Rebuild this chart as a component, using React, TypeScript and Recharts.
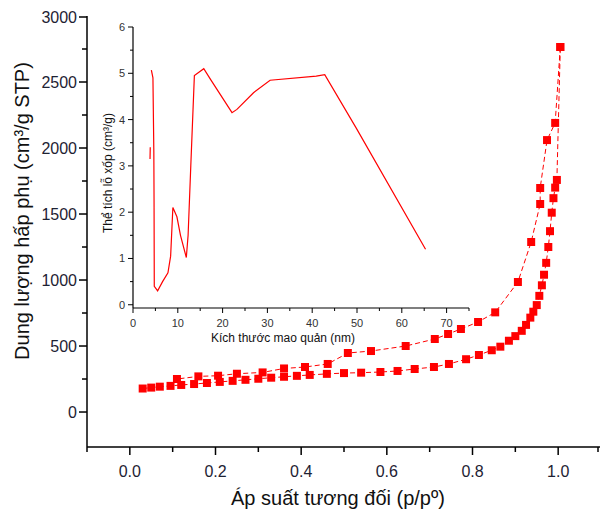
import { ScatterChart, Scatter, XAxis, YAxis, ZAxis, LineChart, Line, Label } from "recharts";

// Adsorption branch (lower curve): relative pressure and adsorbed volume.
const adsP = [0.03, 0.05, 0.07, 0.095, 0.12, 0.15, 0.18, 0.21, 0.24, 0.27, 0.3, 0.33, 0.36, 0.39, 0.42, 0.46, 0.5, 0.54, 0.585, 0.625, 0.665, 0.71, 0.745, 0.785, 0.815, 0.845, 0.865, 0.885, 0.9, 0.915, 0.925, 0.935, 0.942, 0.95, 0.956, 0.962, 0.967, 0.972, 0.977, 0.981, 0.985, 0.989, 0.993, 0.997, 1.005];
const adsV = [178, 185, 192, 198, 205, 212, 220, 228, 236, 244, 252, 260, 267, 274, 281, 289, 295, 298, 303, 311, 326, 341, 364, 400, 432, 468, 495, 540, 575, 615, 660, 715, 760, 810, 880, 960, 1040, 1130, 1250, 1370, 1510, 1620, 1700, 1758, 2765];

// Desorption branch (upper curve).
const desP = [1.005, 0.993, 0.974, 0.958, 0.958, 0.937, 0.906, 0.853, 0.813, 0.773, 0.743, 0.712, 0.644, 0.563, 0.509, 0.462, 0.409, 0.36, 0.31, 0.25, 0.206, 0.16, 0.11];
const desV = [2765, 2190, 2060, 1697, 1576, 1288, 985, 755, 682, 629, 591, 553, 500, 462, 447, 364, 341, 330, 300, 290, 275, 270, 250];

// Inset: pore size distribution (null = gap in the line).
const poreSize = [3.8, 3.85, 3.95, 4.1, 4.45, 4.65, 4.7, 4.75, 5.5, 6.6, 7.8, 8.4, 8.9, 9.8, 10.6, 11.9, 12.3, 12.9, 13.7, 15.8, 17.3, 22.1, 23.2, 26.9, 30.6, 40.9, 42.8, 49.8, 65.3];
const poreVol = [3.15, 3.4, null, 5.07, 4.9, 3.3, 2.24, 0.4, 0.3, 0.5, 0.69, 1.05, 2.1, 1.9, 1.5, 1.02, 1.5, 3.0, 4.95, 5.1, 4.87, 4.15, 4.22, 4.58, 4.85, 4.94, 4.97, 3.82, 1.2];

const xTicks = [-0.1, 0, 0.1, 0.2, 0.3, 0.4, 0.5, 0.6, 0.7, 0.8, 0.9, 1.0, 1.1];
const yTicks = [0, 250, 500, 750, 1000, 1250, 1500, 1750, 2000, 2250, 2500, 2750, 3000];
const insetXTicks = [0, 5, 10, 15, 20, 25, 30, 35, 40, 45, 50, 55, 60, 65, 70, 75];
const insetYTicks = [0, 0.5, 1, 1.5, 2, 2.5, 3, 3.5, 4, 4.5, 5, 5.5, 6];

const adsData = adsP.map((p, i) => ({ x: p, y: adsV[i] }));
const desData = desP.map((p, i) => ({ x: p, y: desV[i] }));
const poreData = poreSize.map((d, i) => ({ x: d, y: poreVol[i] }));

const RED = "#ff0000";
const FONT = "'Liberation Sans', Arial, sans-serif";
const LABEL_COLOR = "#1e2233";

const MainXTick = ({ x, y, payload }: any) => {
  const v = payload.value;
  const major = Math.round(v * 10) % 2 === 0 && v >= 0 && v <= 1.0001;
  return (
    <g>
      <line x1={x} x2={x} y1={y} y2={y + (major ? 8 : 5)} stroke="#000" strokeWidth={1.5} />
      {major && (
        <text x={x} y={y + 30} textAnchor="middle" fontSize={16} fontFamily={FONT} fill={LABEL_COLOR}>
          {v.toFixed(1)}
        </text>
      )}
    </g>
  );
};

const MainYTick = ({ x, y, payload }: any) => {
  const v = payload.value;
  const major = v % 500 === 0;
  return (
    <g>
      <line x1={x} x2={x - (major ? 8 : 5)} y1={y} y2={y} stroke="#000" strokeWidth={1.5} />
      {major && (
        <text x={x - 10} y={y + 6} textAnchor="end" fontSize={16} fontFamily={FONT} fill={LABEL_COLOR}>
          {v}
        </text>
      )}
    </g>
  );
};

const InsetXTick = ({ x, y, payload }: any) => {
  const v = payload.value;
  const major = v % 10 === 0 && v <= 70;
  return (
    <g>
      <line x1={x} x2={x} y1={y} y2={y + (major ? 5 : 3)} stroke="#000" strokeWidth={1} />
      {major && (
        <text x={x} y={y + 19} textAnchor="middle" fontSize={11} fontFamily={FONT} fill="#333">
          {v}
        </text>
      )}
    </g>
  );
};

const InsetYTick = ({ x, y, payload }: any) => {
  const v = payload.value;
  const major = Number.isInteger(v);
  return (
    <g>
      <line x1={x} x2={x - (major ? 5 : 3)} y1={y} y2={y} stroke="#000" strokeWidth={1} />
      {major && (
        <text x={x - 8} y={y + 4} textAnchor="end" fontSize={11} fontFamily={FONT} fill="#333">
          {v}
        </text>
      )}
    </g>
  );
};

// Axis titles placed at fixed spots (baseline coordinates inside each svg).
const TitleText = ({ x, y, size, angle, text }: any) => (
  <text
    x={x}
    y={y}
    textAnchor="middle"
    fontSize={size}
    fontFamily={FONT}
    fill="#111"
    transform={angle ? `rotate(${angle} ${x} ${y})` : undefined}
  >
    {text}
  </text>
);

export default function App() {
  return (
    <div style={{ position: "relative", width: 600, height: 510, background: "#fff" }}>
      <ScatterChart width={600} height={510} margin={{ top: 8, right: 7, left: 0, bottom: 0 }}>
        <XAxis
          type="number"
          dataKey="x"
          domain={[-0.1, 1.1]}
          ticks={xTicks}
          tick={<MainXTick />}
          tickLine={false}
          tickSize={0}
          tickMargin={0}
          height={71}
          axisLine={{ stroke: "#000", strokeWidth: 1.5 }}
        >
          <Label content={() => <TitleText x={330} y={497} size={20} text="Áp suất tương đối (p/pº)" />} />
        </XAxis>
        <YAxis
          type="number"
          dataKey="y"
          domain={[-265, 3000]}
          ticks={yTicks}
          tick={<MainYTick />}
          tickLine={false}
          tickSize={0}
          tickMargin={0}
          width={79}
          axisLine={{ stroke: "#000", strokeWidth: 1.5 }}
        >
          <Label content={() => <TitleText x={21} y={203} size={20} angle={-90} text="Dung lượng hấp phụ (cm³/g STP)" />} />
        </YAxis>
        <ZAxis range={[81, 81]} />
        <Scatter
          data={adsData}
          fill={RED}
          shape="square"
          line={{ stroke: RED, strokeWidth: 1, strokeDasharray: "5 3" }}
          lineType="joint"
          isAnimationActive={false}
        />
        <Scatter
          data={desData}
          fill={RED}
          shape="square"
          line={{ stroke: RED, strokeWidth: 1, strokeDasharray: "5 3" }}
          lineType="joint"
          isAnimationActive={false}
        />
      </ScatterChart>

      <div style={{ position: "absolute", left: 72, top: 7 }}>
        <LineChart width={400} height={345} data={poreData} margin={{ top: 12, right: 11, left: 0, bottom: 0 }}>
          <XAxis
            type="number"
            dataKey="x"
            domain={[0, 75]}
            ticks={insetXTicks}
            tick={<InsetXTick />}
            tickLine={false}
            tickSize={0}
            tickMargin={0}
            height={52}
            axisLine={{ stroke: "#000", strokeWidth: 1.2 }}
          >
            <Label content={() => <TitleText x={203} y={327} size={12} text="Kích thước mao quản (nm)" />} />
          </XAxis>
          <YAxis
            type="number"
            domain={[-0.07, 6]}
            ticks={insetYTicks}
            tick={<InsetYTick />}
            tickLine={false}
            tickSize={0}
            tickMargin={0}
            width={53}
            axisLine={{ stroke: "#000", strokeWidth: 1.2 }}
          >
            <Label content={() => <TitleText x={32} y={158} size={12} angle={-90} text="Thể tích lỗ xốp (cm³/g)" />} />
          </YAxis>
          <Line dataKey="y" stroke={RED} strokeWidth={1.2} dot={false} connectNulls={false} isAnimationActive={false} />
        </LineChart>
      </div>
    </div>
  );
}
